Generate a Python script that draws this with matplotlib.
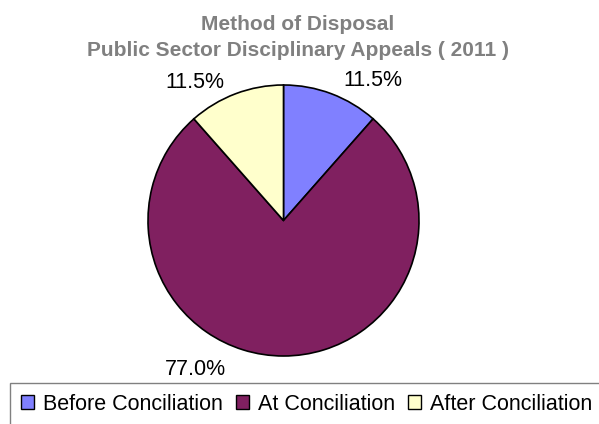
import matplotlib.pyplot as plt
from matplotlib.patches import Rectangle

labels = ['Before Conciliation', 'At Conciliation', 'After Conciliation']
shares = [11.5, 77.0, 11.5]
colors = ['#8080FF', '#802060', '#FFFFCC']

plt.rcParams['font.family'] = ['Liberation Sans', 'DejaVu Sans']

fig = plt.figure(figsize=(5.99, 4.24), dpi=100)

# pie axes: centre ~ (283.5, 220.5) px, radius ~ 135.5 px
cx, cy, r = 283.5, 220.5, 135.5
ax = fig.add_axes([(cx - r) / 599, (424 - cy - r) / 424, 2 * r / 599, 2 * r / 424])
ax.pie(shares, colors=colors, startangle=90, counterclock=False,
       wedgeprops=dict(edgecolor='black', linewidth=1.2))
ax.set_xlim(-1, 1)
ax.set_ylim(-1, 1)
ax.set_aspect('equal')

# data labels, placed as in the original
label_pos = [(0.66, 1.03), (-0.653, -1.10), (-0.653, 1.015)]
for (x, y), v in zip(label_pos, shares):
    ax.text(x, y, f'{v:.1f}%', ha='center', va='center', fontsize=15.5,
            clip_on=False)

fig.text(298 / 599, 1 - 24 / 424, 'Method of Disposal', ha='center',
         va='center', fontsize=15, fontweight='bold', color='#808080')
fig.text(298 / 599, 1 - 50 / 424, 'Public Sector Disciplinary Appeals ( 2011 )',
         ha='center', va='center', fontsize=15, fontweight='bold',
         color='#808080')

# legend box (runs off the page at the right and bottom)
fig.patches.append(Rectangle((10 / 599, -0.1), 1.0, (424 - 383) / 424 + 0.1,
                             transform=fig.transFigure, facecolor='none',
                             edgecolor='#808080', linewidth=1.0))
handles = [Rectangle((0, 0), 1, 1, facecolor=c, edgecolor='black', linewidth=1)
           for c in colors]
fig.legend(handles, labels, loc='center left',
           bbox_to_anchor=(21 / 599, 1 - 404 / 424), ncol=3, frameon=False,
           fontsize=15.5, handlelength=0.6, handleheight=0.6,
           handletextpad=0.42, columnspacing=0.6, borderpad=0,
           borderaxespad=0)

fig.savefig('out.png', dpi=100)
